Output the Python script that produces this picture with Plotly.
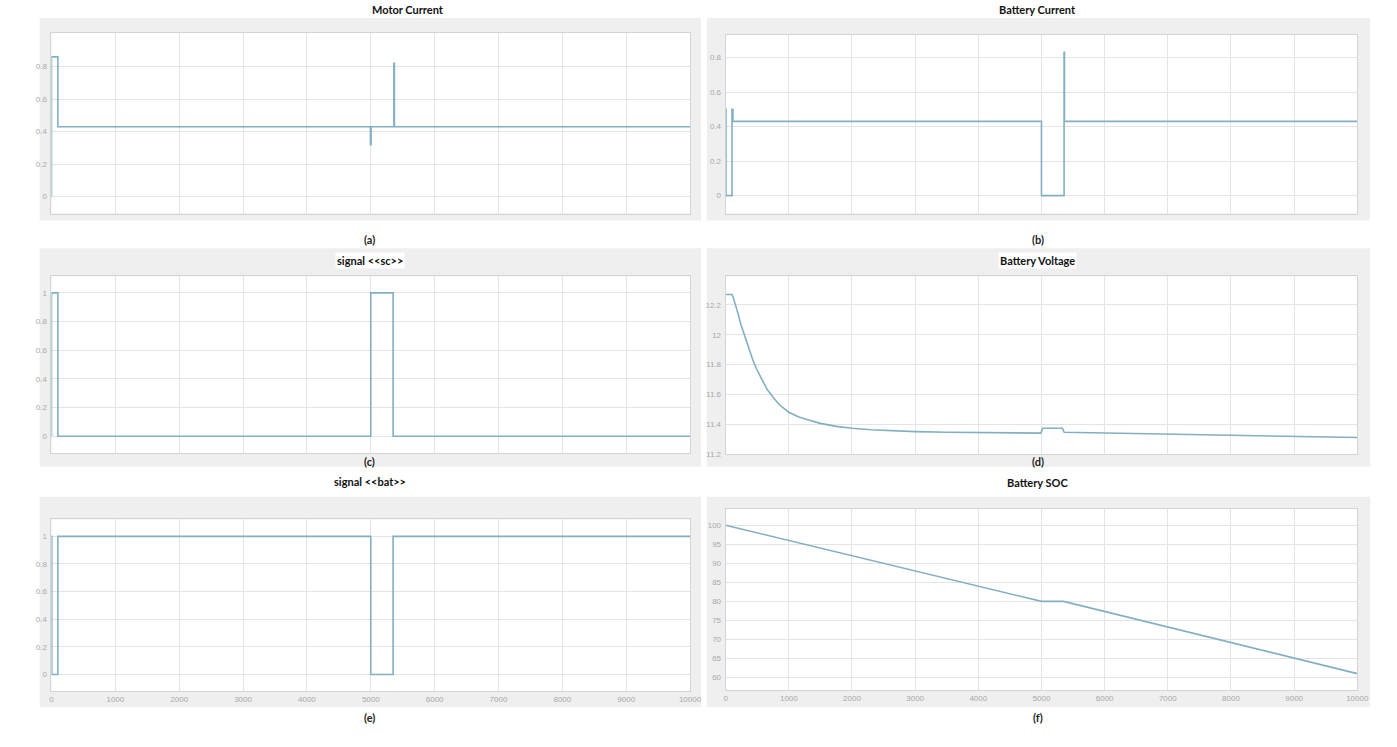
import plotly.graph_objects as go

W, H = 1397, 747

# ---------------- data ----------------
motor_t = [0, 0, 100, 4995, 5005, 5362, 5370, 10000]
motor_v = [0, 0.86, 0.43, 0.32, 0.43, 0.82, 0.43, 0.43]

batcur_t = [0, 5, 100, 115, 5000, 5358, 5364, 10000]
batcur_v = [0.5, 0, 0.5, 0.43, 0, 0.83, 0.43, 0.43]

sc_t = [0, 0, 100, 5000, 5350, 10000]
sc_v = [0, 1, 0, 1, 0, 0]

bat_t = [0, 5, 100, 5000, 5350, 10000]
bat_v = [1, 0, 1, 0, 1, 1]

volt_t = [0, 100, 120, 150, 190, 240, 300, 360, 430, 500, 580, 660, 750, 850, 1000, 1150,
          1300, 1500, 1750, 2000, 2300, 2600, 3000, 3500, 4000, 4500, 4990, 5020, 5330,
          5360, 6000, 7000, 8000, 9000, 10000]
volt_v = [12.27, 12.27, 12.25, 12.21, 12.15, 12.07, 11.99, 11.91, 11.83, 11.76, 11.69,
          11.63, 11.58, 11.53, 11.48, 11.45, 11.43, 11.405, 11.385, 11.372, 11.362, 11.356,
          11.35, 11.346, 11.343, 11.341, 11.34, 11.372, 11.372, 11.345, 11.34, 11.333,
          11.325, 11.318, 11.31]

soc_t = [0, 5000, 5350, 10000]
soc_v = [100, 80, 80, 61]

x_ticks = [0, 1000, 2000, 3000, 4000, 5000, 6000, 7000, 8000, 9000, 10000]

titles = ["Motor Current", "Battery Current", "signal <<sc>>", "Battery Voltage",
          "signal <<bat>>", "Battery SOC"]
captions = ["(a)", "(b)", "(c)", "(d)", "(e)", "(f)"]

# ---------------- layout (pixels) ----------------
boxes = [
    (50, 695, 33, 215),
    (731, 1369, 35, 215),
    (50, 695, 278, 456),
    (731, 1369, 278, 457),
    (50, 695, 523, 696),
    (731, 1369, 512, 695),
]
grays = [
    (38, 706, 18, 222),
    (712, 1382, 18, 222),
    (38, 706, 250, 470),
    (712, 1382, 250, 470),
    (38, 706, 500, 712),
    (712, 1382, 500, 712),
]
yranges = [(-0.104, 1.008), (-0.104, 0.932), (-0.117, 1.117), (11.2, 12.393),
           (-0.122, 1.122), (56.6, 104.4)]
yticks = [
    [0, 0.2, 0.4, 0.6, 0.8],
    [0, 0.2, 0.4, 0.6, 0.8],
    [0, 0.2, 0.4, 0.6, 0.8, 1],
    [11.2, 11.4, 11.6, 11.8, 12, 12.2],
    [0, 0.2, 0.4, 0.6, 0.8, 1],
    [60, 65, 70, 75, 80, 85, 90, 95, 100],
]
title_pos = [(410, 10), (1046, 10), (372, 262), (1046, 262), (372, 485), (1046, 486)]
cap_pos = [(371, 241), (1046, 241), (371, 465), (1046, 465), (371, 722), (1046, 722)]

series = [(motor_t, motor_v), (batcur_t, batcur_v), (sc_t, sc_v), (volt_t, volt_v),
          (bat_t, bat_v), (soc_t, soc_v)]
shapes_line = ["hv", "hv", "hv", "linear", "hv", "linear"]

fig = go.Figure()
layout = dict(width=W, height=H, margin=dict(l=0, r=0, t=0, b=0),
              paper_bgcolor="white", plot_bgcolor="white", showlegend=False)
shapes = []
annotations = []

for i in range(6):
    n = "" if i == 0 else str(i + 1)
    x0, x1, y0, y1 = boxes[i]
    gx0, gx1, gy0, gy1 = grays[i]
    shapes.append(dict(type="rect", xref="paper", yref="paper", layer="below",
                       x0=gx0 / W, x1=gx1 / W, y0=1 - gy1 / H, y1=1 - gy0 / H,
                       fillcolor="#efefef", line=dict(width=0)))
    shapes.append(dict(type="rect", xref="paper", yref="paper", layer="below",
                       x0=x0 / W, x1=x1 / W, y0=1 - y1 / H, y1=1 - y0 / H,
                       fillcolor="white", line=dict(width=0)))
    layout["xaxis" + n] = dict(
        domain=[x0 / W, x1 / W], anchor="y" + n, range=[0, 10000],
        tickvals=x_ticks, ticktext=[str(v) for v in x_ticks],
        showticklabels=(i >= 4), ticks="", showgrid=True, gridcolor="#e4e4e4",
        gridwidth=1, zeroline=False, showline=True, linecolor="#d4d4d4", mirror=True,
        tickfont=dict(family="Liberation Sans", size=8, color="#a8a8a8"))
    layout["yaxis" + n] = dict(
        domain=[1 - y1 / H, 1 - y0 / H], anchor="x" + n, range=list(yranges[i]),
        tickvals=yticks[i], ticktext=[("%g" % v) for v in yticks[i]],
        ticks="", showgrid=True, gridcolor="#e4e4e4", gridwidth=1, zeroline=False,
        showline=True, linecolor="#d4d4d4", mirror=True, ticklabelstandoff=2,
        tickfont=dict(family="Liberation Sans", size=8, color="#a8a8a8"))
    t, v = series[i]
    fig.add_trace(go.Scatter(x=t, y=v, mode="lines", xaxis="x" + n, yaxis="y" + n,
                             line=dict(color="#82afc2", width=1.6, shape=shapes_line[i]),
                             cliponaxis=True))
    tx, ty = title_pos[i]
    annotations.append(dict(text="<b>%s</b>" % titles[i].replace("<", "&lt;").replace(">", "&gt;"),
                            xref="paper", yref="paper",
                            x=tx / W, y=1 - ty / H, showarrow=False, xanchor="center",
                            yanchor="middle", bgcolor="white",
                            font=dict(family="Lato", size=11, color="#111111")))
    cx, cy = cap_pos[i]
    annotations.append(dict(text="<b>%s</b>" % captions[i], xref="paper", yref="paper",
                            x=cx / W, y=1 - cy / H, showarrow=False, xanchor="center",
                            yanchor="middle",
                            font=dict(family="Lato", size=11, color="#222222")))

layout["shapes"] = shapes
layout["annotations"] = annotations
fig.update_layout(**layout)
fig.write_html("out.html")
